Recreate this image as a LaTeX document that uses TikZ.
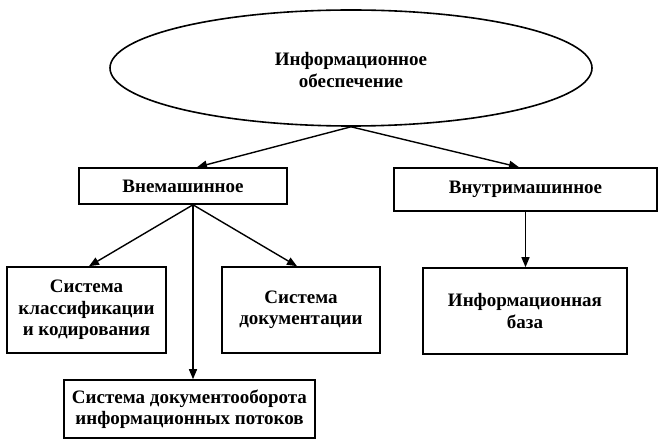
\documentclass[tikz,border=0pt]{standalone}
\usepackage{fontspec}
\setmainfont{Liberation Serif}
\usetikzlibrary{arrows.meta,shapes.geometric}
\begin{document}
\begin{tikzpicture}[x=1pt,y=-1pt,
  every node/.style={font=\bfseries\fontsize{19}{21.5}\selectfont, align=center, inner sep=0pt},
  box/.style={draw, line width=1.6pt, rectangle},
  oval/.style={draw, line width=1.6pt, ellipse},
  conn/.style={line width=1.4pt, -{Triangle[length=10pt,width=8pt]}}]
\useasboundingbox (0,0) rectangle (660,443);
\node[oval, minimum width=482pt, minimum height=116pt] (ell) at (351,68) {};
\node[anchor=center] (ellt) at (351,70) {Информационное\\обеспечение};
\node[box, minimum width=208pt, minimum height=36pt] (vne) at (183,186) {Внемашинное};
\node[box, minimum width=263pt, minimum height=43pt] (vnu) at (525.5,189.5) {Внутримашинное};
\node[box, minimum width=204pt, minimum height=86pt] (ib) at (525,311) {Информационная\\база};
\node[box, minimum width=159pt, minimum height=86pt] (skk) at (86.5,310) {Система\\классификации\\и кодирования};
\node[box, minimum width=158pt, minimum height=86pt] (sd) at (301,310) {Система\\документации};
\node[box, minimum width=251pt, minimum height=58pt] (sdo) at (189.5,409) {Система документооборота\\информационных потоков};
\draw[conn] (ell.south) -- ([xshift=14pt]vne.north);
\draw[conn] (ell.south) -- ([xshift=-6.5pt]vnu.north);
\draw[conn] ([xshift=10pt]vne.south) -- ([xshift=2.5pt]skk.north);
\draw[conn] ([xshift=10pt]vne.south) -- ([xshift=-4pt]sd.north);
\draw[conn] ([xshift=10pt]vne.south) -- ([xshift=10pt]vne.south |- sdo.north);
\draw[conn] (vnu.south) -- (vnu.south |- ib.north);
\end{tikzpicture}
\end{document}
